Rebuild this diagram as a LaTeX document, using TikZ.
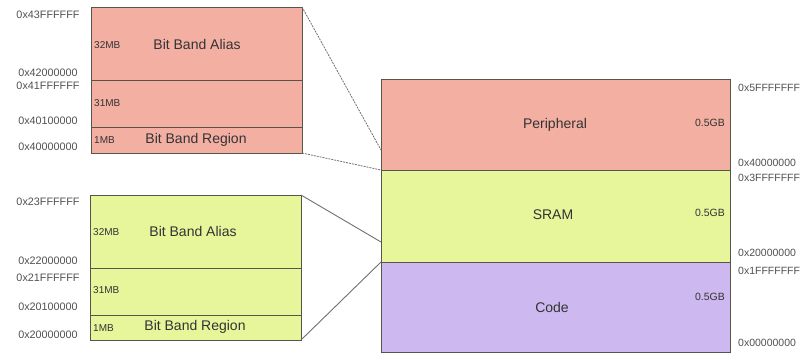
\documentclass[tikz,border=0pt]{standalone}
\usepackage{fontspec}
\setmainfont{Liberation Sans}
\definecolor{pinkc}{HTML}{F4AFA3}
\definecolor{yellc}{HTML}{E7F59B}
\definecolor{purpc}{HTML}{CDB9EF}
\definecolor{bordc}{HTML}{55554A}
\definecolor{addrc}{HTML}{505050}
\definecolor{txtc}{HTML}{333333}
\definecolor{linec}{HTML}{707070}
\begin{document}
\begin{tikzpicture}[x=1pt,y=-1pt,
  sec/.style={draw=bordc,line width=0.8pt,anchor=north west,inner sep=0pt,outer sep=0pt},
  addrl/.style={font=\fontsize{10.8}{11}\selectfont,text=addrc,inner sep=0pt,anchor=center},
  addrr/.style={font=\fontsize{10.5}{11}\selectfont,text=addrc,inner sep=0pt,anchor=west},
  size/.style={font=\fontsize{10}{10}\selectfont,text=txtc,inner sep=0pt,anchor=west},
  big/.style={font=\fontsize{14}{14}\selectfont,text=txtc,inner sep=0pt},
  gb/.style={font=\fontsize{10.5}{11}\selectfont,text=txtc,inner sep=0pt,anchor=east},
  dashlink/.style={draw=linec,line width=0.8pt,dash pattern=on 2pt off 1pt},
  solidlink/.style={draw=linec,line width=0.9pt}]
\useasboundingbox (0,0) rectangle (802,353);

% left pink block
\node[sec,fill=pinkc,minimum width=211pt,minimum height=73pt] (pa) at (91,7) {};
\node[sec,fill=pinkc,minimum width=211pt,minimum height=47.5pt] (pb) at (91,80) {};
\node[sec,fill=pinkc,minimum width=211pt,minimum height=25.5pt] (pc) at (91,127.5) {};

% left yellow block
\node[sec,fill=yellc,minimum width=211pt,minimum height=73pt] (ya) at (90,195) {};
\node[sec,fill=yellc,minimum width=211pt,minimum height=47pt] (yb) at (90,268) {};
\node[sec,fill=yellc,minimum width=211pt,minimum height=25pt] (yc) at (90,315) {};

% right memory map
\node[sec,fill=pinkc,minimum width=349pt,minimum height=91pt] (per) at (381,79) {};
\node[sec,fill=yellc,minimum width=349pt,minimum height=92pt] (sram) at (381,170) {};
\node[sec,fill=purpc,minimum width=349pt,minimum height=90pt] (code) at (381,262) {};

% connector endpoints
\coordinate (pt1) at (381,150);
\coordinate (yt1) at (381,242);
\draw[dashlink] (pa.north east) -- (pt1);
\draw[dashlink] (pc.south east) -- (per.south west);
\draw[solidlink] (ya.north east) -- (yt1);
\draw[solidlink] (yc.south east) -- (code.north west);

% texts in pink block
\node[size] (t1) at (94,45) {32MB};
\node[big] (t2) at (197,44) {Bit Band Alias};
\node[size] (t3) at (94,103) {31MB};
\node[size] (t4) at (94,140) {1MB};
\node[big] (t5) at (196,140) {Bit Band Region};

% texts in yellow block
\node[size] (t6) at (93,232) {32MB};
\node[big] (t7) at (193,231) {Bit Band Alias};
\node[size] (t8) at (93,290) {31MB};
\node[size] (t9) at (93,328) {1MB};
\node[big] (t10) at (195,327) {Bit Band Region};

% texts in right map
\node[big] (t11) at (555,125) {Peripheral};
\node[gb] (t12) at (725,123) {0.5GB};
\node[big] (t13) at (553,215) {SRAM};
\node[gb] (t14) at (725,213) {0.5GB};
\node[big] (t15) at (552,307) {Code};
\node[gb] (t16) at (725,297) {0.5GB};

% left addresses
\node[addrl] (a1) at (48,15) {0x43FFFFFF};
\node[addrl] (a2) at (48,73) {0x42000000};
\node[addrl] (a3) at (48,86) {0x41FFFFFF};
\node[addrl] (a4) at (48,121) {0x40100000};
\node[addrl] (a5) at (48,147) {0x40000000};
\node[addrl] (a6) at (48,202) {0x23FFFFFF};
\node[addrl] (a7) at (48,261) {0x22000000};
\node[addrl] (a8) at (48,278) {0x21FFFFFF};
\node[addrl] (a9) at (48,307) {0x20100000};
\node[addrl] (a10) at (48,335) {0x20000000};

% right addresses
\node[addrr] (r1) at (738,88) {0x5FFFFFFF};
\node[addrr] (r2) at (738,163) {0x40000000};
\node[addrr] (r3) at (738,178) {0x3FFFFFFF};
\node[addrr] (r4) at (738,253) {0x20000000};
\node[addrr] (r5) at (738,271) {0x1FFFFFFF};
\node[addrr] (r6) at (738,343) {0x00000000};
\end{tikzpicture}
\end{document}
